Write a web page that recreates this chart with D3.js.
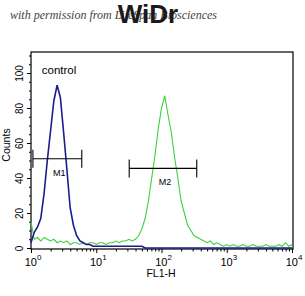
<!DOCTYPE html>
<html>
<head>
<meta charset="utf-8">
<script src="https://cdn.jsdelivr.net/npm/d3@7"></script>
<style>
  body { margin: 0; background: #fff; }
  svg { display: block; font-family: 'Liberation Sans', Arial, sans-serif; }
</style>
</head>
<body>
<script>
// FL1-H channel positions, as log10 of the fluorescence value
const fl1Log = [
  0.00, 0.05, 0.10, 0.15, 0.20, 0.25, 0.30, 0.35, 0.40, 0.45,
  0.50, 0.55, 0.60, 0.65, 0.70, 0.75, 0.80, 0.85, 0.90, 0.95,
  1.00, 1.05, 1.10, 1.15, 1.20, 1.25, 1.30, 1.35, 1.40, 1.45,
  1.50, 1.55, 1.60, 1.65, 1.70, 1.75, 1.80, 1.85, 1.90, 1.95,
  2.00, 2.05, 2.10, 2.15, 2.20, 2.25, 2.30, 2.35, 2.40, 2.45,
  2.50, 2.55, 2.60, 2.65, 2.70, 2.75, 2.80, 2.85, 2.90, 2.95,
  3.00, 3.05, 3.10, 3.15, 3.20, 3.25, 3.30, 3.35, 3.40, 3.45,
  3.50, 3.55, 3.60, 3.65, 3.70, 3.75, 3.80, 3.85, 3.90, 3.95,
  4.00
]

// counts for the control (blue) histogram
const controlCounts = [
  3, 9, 12, 17, 31, 50, 67, 84, 93, 86,
  66, 45, 23, 13, 7, 4, 3, 2, 2, 1,
  1, 1, 1, 1, 1, 1, 1, 1, 1, 1,
  1, 1, 1, 1, 1, 0, 0, 0, 0, 0,
  0, 0, 0, 0, 0, 0, 0, 0, 0, 0,
  0, 0, 0, 0, 0, 0, 0, 0, 0, 0,
  0, 0, 0, 0, 0, 0, 0, 0, 0, 0,
  0, 0, 0, 0, 0, 0, 0, 0, 0, 0,
  0
]

// counts for the stained sample (green) histogram
const sampleCounts = [
  15, 5, 6, 4, 6, 5, 4, 5, 3, 4,
  3, 4, 2, 3, 3, 2, 3, 2, 3, 3,
  2, 3, 3, 2, 3, 3, 4, 3, 4, 4,
  5, 4, 5, 7, 11, 17, 27, 40, 53, 68,
  80, 87, 76, 66, 52, 40, 27, 20, 13, 10,
  7, 6, 5, 4, 3, 4, 2, 3, 2, 1,
  2, 1, 2, 1, 1, 2, 1, 1, 2, 1,
  1, 1, 2, 1, 1, 1, 2, 1, 3, 1,
  2
]

// marker gates
const markerNames = ['M1', 'M2']
const markerFrom = [1.07, 32]
const markerTo = [6.0, 347]
const markerLevel = [51, 45.5]

// axis ticks
const xDecades = [1, 10, 100, 1000, 10000]
const xExponents = ['0', '1', '2', '3', '4']
const yMajor = [0, 20, 40, 60, 80, 100]

const w = 305
const h = 296
const pLeft = 31, pRight = 292, pTop = 52, pBottom = 248

const svg = d3.select('body')
  .append('svg')
  .attr('width', w)
  .attr('height', h)

svg.append('rect')
  .attr('width', w)
  .attr('height', h)
  .attr('fill', '#fff')

// scales
const xScale = d3.scaleLog()
  .domain([1, 10000])
  .range([pLeft, pRight])

const yScale = d3.scaleLinear()
  .domain([0, 112])
  .range([pBottom, pTop])

// watermark + title
svg.append('text')
  .attr('x', 10)
  .attr('y', 19)
  .attr('font-family', "'Liberation Serif', serif")
  .attr('font-style', 'italic')
  .attr('font-size', 12)
  .attr('fill', '#444')
  .attr('textLength', 207)
  .text('with permission from LifeSpan Biosciences')

svg.append('text')
  .attr('x', 148)
  .attr('y', 23)
  .attr('text-anchor', 'middle')
  .attr('font-weight', 'bold')
  .attr('font-size', 26)
  .attr('fill', '#1a1a1a')
  .text('WiDr')

// plot frame
svg.append('rect')
  .attr('x', pLeft)
  .attr('y', pTop)
  .attr('width', pRight - pLeft + 1)
  .attr('height', pBottom - pTop + 1)
  .attr('fill', 'none')
  .attr('stroke', '#000')
  .attr('stroke-width', 1.2)

// x axis, major ticks
const xAxis = svg.append('g')
  .attr('transform', `translate(0,${pBottom + 1})`)
  .call(d3.axisBottom(xScale).tickValues(xDecades).tickSize(4).tickFormat(''))
xAxis.select('.domain').remove()

// x axis, minor ticks
const xMinor = svg.append('g')
  .attr('transform', `translate(0,${pBottom + 1})`)
  .call(d3.axisBottom(xScale).tickValues(xScale.ticks().filter(v => !xDecades.includes(v))).tickSize(2.5).tickFormat(''))
xMinor.select('.domain').remove()

// x tick labels with superscript exponents
const xLabels = svg.append('g')
  .attr('font-size', 11)
  .selectAll('text')
  .data(xDecades)
  .enter()
  .append('text')
  .attr('x', d => xScale(d) + 2)
  .attr('y', 266)
  .attr('text-anchor', 'middle')
xLabels.append('tspan').text('10')
xLabels.append('tspan')
  .attr('dy', -6)
  .attr('font-size', 8)
  .text((d, i) => xExponents[i])

svg.append('text')
  .attr('x', 161)
  .attr('y', 277)
  .attr('text-anchor', 'middle')
  .attr('font-size', 10.5)
  .text('FL1-H')

// y axis, major ticks with rotated labels
const yAxis = svg.append('g')
  .attr('transform', `translate(${pLeft},0)`)
  .call(d3.axisLeft(yScale).tickValues(yMajor).tickSize(4))
yAxis.select('.domain').remove()
yAxis.selectAll('text')
  .attr('transform', 'rotate(-90)')
  .attr('x', 0)
  .attr('y', -8)
  .attr('dy', 0)
  .attr('text-anchor', 'middle')
  .attr('font-size', 10)
  .attr('font-family', "'Liberation Sans', Arial, sans-serif")
  .attr('fill', '#000')

// y axis, minor ticks
const yMinor = svg.append('g')
  .attr('transform', `translate(${pLeft},0)`)
  .call(d3.axisLeft(yScale).ticks(22).tickSize(2).tickFormat(''))
yMinor.select('.domain').remove()

svg.append('text')
  .attr('transform', 'translate(10,145) rotate(-90)')
  .attr('text-anchor', 'middle')
  .attr('font-size', 10.5)
  .text('Counts')

// histograms
const line = (counts) => d3.line()
  .x((d, i) => xScale(Math.pow(10, fl1Log[i])))
  .y(d => yScale(d))(counts)

svg.append('path')
  .attr('d', line(sampleCounts))
  .attr('fill', 'none')
  .attr('stroke', '#3ccf3c')
  .attr('stroke-width', 1.1)

svg.append('path')
  .attr('d', line(controlCounts))
  .attr('fill', 'none')
  .attr('stroke', '#1c1c8c')
  .attr('stroke-width', 1.6)

// marker gates
markerNames.forEach((name, i) => {
  const x1 = xScale(markerFrom[i])
  const x2 = xScale(markerTo[i])
  const y = yScale(markerLevel[i])
  const g = svg.append('g')
    .attr('stroke', '#000')
    .attr('stroke-width', 1.1)
  g.append('line').attr('x1', x1).attr('x2', x2).attr('y1', y).attr('y2', y)
  g.append('line').attr('x1', x1).attr('x2', x1).attr('y1', y - 9).attr('y2', y + 9)
  g.append('line').attr('x1', x2).attr('x2', x2).attr('y1', y - 9).attr('y2', y + 9)
  svg.append('text')
    .attr('x', (x1 + x2) / 2 + 2)
    .attr('y', y + 17)
    .attr('text-anchor', 'middle')
    .attr('font-size', 9)
    .text(name)
})

// control label
svg.append('text')
  .attr('x', 59)
  .attr('y', 74)
  .attr('text-anchor', 'middle')
  .attr('font-size', 11.5)
  .text('control')
</script>
</body>
</html>
